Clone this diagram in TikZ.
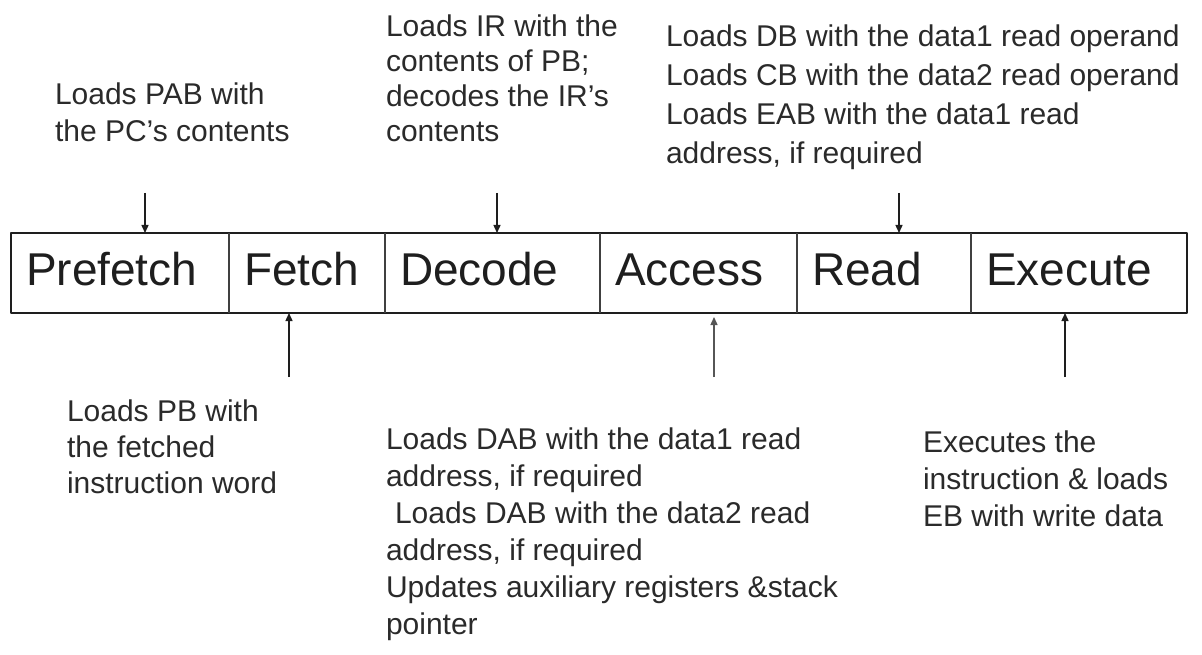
\documentclass[tikz,border=0pt]{standalone}
\usepackage{fontspec}
\setmainfont{Liberation Sans}
\usetikzlibrary{arrows.meta,positioning}

\definecolor{ink}{HTML}{1E1E1E}
\definecolor{note}{HTML}{2A2A2A}

\tikzset{
  stage/.style={inner xsep=15pt, inner ysep=0pt, outer sep=0pt, anchor=west,
    minimum height=80pt, text height=33pt, text depth=9pt, align=left,
    font=\fontsize{46}{46}\selectfont, text=ink},
  % anchored at the baseline of the last line
  notebox/.style={inner sep=0pt, outer sep=0pt, anchor=base west, align=left,
    text=note},
  frame/.style={draw=ink, line width=2.6pt, line join=round},
  divider/.style={draw=ink!85, line width=1.5pt},
  feed/.style={draw=ink, line width=1.4pt,
    -{Triangle[length=8pt,width=7pt]}},
}

\begin{document}
\begin{tikzpicture}[x=1pt,y=-1pt]
\useasboundingbox (0,0) rectangle (1202,655);

% pipeline stages
\node[stage, text width=188pt] (pf) at (11,273) {Prefetch};
\node[stage, text width=126pt, right=0pt of pf] (fe) {Fetch};
\node[stage, text width=185pt, right=0pt of fe] (de) {Decode};
\node[stage, text width=167pt, right=0pt of de] (ac) {Access};
\node[stage, text width=144pt, right=0pt of ac] (rd) {Read};
\node[stage, text width=186pt, right=0pt of rd] (ex) {Execute};

\draw[frame] (pf.north west) rectangle (ex.south east);
\foreach \c in {pf,fe,de,ac,rd}
  \draw[divider] (\c.north east) -- (\c.south east);

% notes above the stages
\node[notebox, font=\fontsize{30}{37}\selectfont] (npf) at (55,142)
  {Loads PAB with\\the PC’s contents};
\node[notebox, font=\fontsize{30}{35}\selectfont] (nde) at (386,142)
  {Loads IR with the\\contents of PB;\\decodes the IR’s\\contents};
\node[notebox, font=\fontsize{30}{39}\selectfont] (nrd) at (666,164)
  {Loads DB with the data1 read operand\\Loads CB with the data2 read operand\\Loads EAB with the data1 read\\address, if required};

% notes below the stages
\node[notebox, font=\fontsize{30}{36}\selectfont] (nfe) at (67,493)
  {Loads PB with\\the fetched\\instruction word};
\node[notebox, font=\fontsize{30}{37}\selectfont] (nac) at (386,634)
  {Loads DAB with the data1 read\\address, if required\\\hspace*{0.3em}Loads DAB with the data2 read\\address, if required\\Updates auxiliary registers \&stack\\pointer};
\node[notebox, font=\fontsize{30}{37}\selectfont] (nex) at (923,526)
  {Executes the\\instruction \& loads\\EB with write data};

% arrow tails
\coordinate (apf) at (145,193);
\coordinate (ade) at (497,193);
\coordinate (ard) at (899,193);
\coordinate (afe) at (289,377);
\coordinate (aac) at (714,377);
\coordinate (aex) at (1065,377);

\draw[feed] (apf) -- (apf |- pf.north);
\draw[feed] (ade) -- (ade |- de.north);
\draw[feed] (ard) -- (ard |- rd.north);
\draw[feed] (afe) -- (afe |- fe.south);
\draw[feed, draw=ink!75] (aac) -- ([yshift=-4pt]aac |- ac.south);
\draw[feed] (aex) -- (aex |- ex.south);
\end{tikzpicture}
\end{document}
